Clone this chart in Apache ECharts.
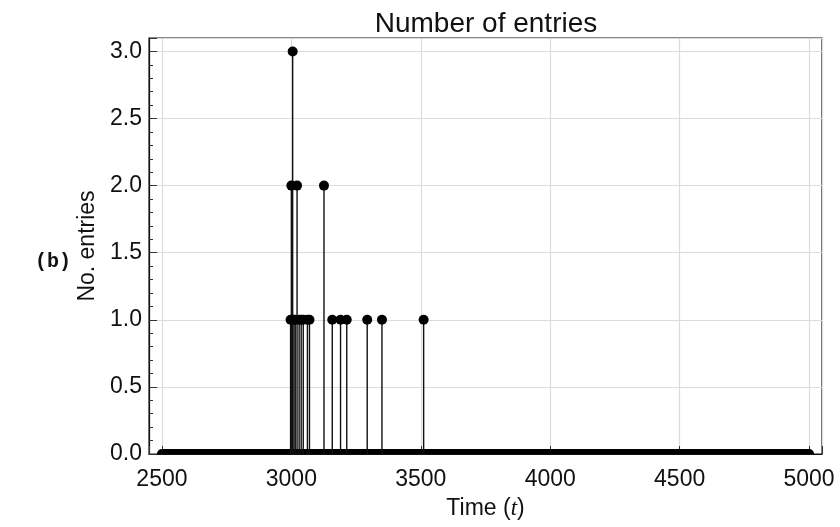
<!DOCTYPE html>
<html>
<head>
<meta charset="utf-8">
<script src="https://cdn.jsdelivr.net/npm/echarts@6/dist/echarts.min.js"></script>
<style>
  html, body { margin: 0; padding: 0; background: #fff; }
  #chart { width: 840px; height: 527px; }
</style>
</head>
<body>
<div id="chart"></div>
<script>
// nonzero entries: time and count
const entryTimes = [2997, 3000, 3005, 3010, 3015, 3022, 3030, 3038, 3046, 3062, 3070, 3126, 3158, 3190, 3214, 3293, 3350, 3511];
const entryCounts = [1, 2, 3, 1, 1, 2, 1, 1, 1, 1, 1, 2, 1, 1, 1, 1, 1, 1];
// time span of the run (every other step has 0 entries)
const timeRange = [2500, 5000];
const yTicks = [0, 0.5, 1.0, 1.5, 2.0, 2.5, 3.0];

const entries = entryTimes.map((t, i) => [t, entryCounts[i]]);

const chart = echarts.init(document.getElementById("chart"));
const font = "Liberation Sans";

chart.setOption({
  backgroundColor: "#fff",
  animation: false,
  title: {
    text: "Number of entries",
    left: 481, top: 5, textAlign: "center",
    textStyle: { fontFamily: font, fontSize: 28, fontWeight: "normal", color: "#111" }
  },
  grid: {
    left: 149, right: 18, top: 38, bottom: 73,
    show: true, borderColor: "#111", borderWidth: 1.2, backgroundColor: "transparent"
  },
  xAxis: {
    type: "value",
    min: 2450, max: 5050, splitNumber: 5,
    name: "Time ({it|t})",
    nameLocation: "middle", nameGap: 43,
    nameTextStyle: {
      fontFamily: font, fontSize: 23, color: "#111",
      rich: { it: { fontFamily: "Liberation Serif", fontStyle: "italic", fontSize: 23, color: "#111" } }
    },
    axisLine: { show: true, lineStyle: { color: "#111", width: 1.2 } },
    axisTick: { show: true, inside: true, length: 8, lineStyle: { color: "#333" } },
    minorTick: { show: true, splitNumber: 5, length: 4, lineStyle: { color: "#333" } },
    axisLabel: {
      showMinLabel: false, showMaxLabel: false, margin: 14,
      fontFamily: font, fontSize: 23, color: "#111",
      formatter: v => String(v)
    },
    splitLine: { show: true, lineStyle: { color: "#dcdcdc", width: 1.2 } }
  },
  yAxis: {
    type: "value",
    min: 0, max: 3.1, interval: 0.5,
    name: "No. entries",
    nameLocation: "middle", nameGap: 47,
    nameTextStyle: { fontFamily: font, fontSize: 23, color: "#111" },
    axisLine: { show: true, lineStyle: { color: "#111", width: 1.2 } },
    axisTick: { show: true, inside: true, length: 8, lineStyle: { color: "#333" } },
    minorTick: { show: true, splitNumber: 5, length: 4, lineStyle: { color: "#333" } },
    axisLabel: {
      showMaxLabel: false, margin: 7,
      fontFamily: font, fontSize: 23, color: "#111",
      formatter: v => yTicks.includes(v) ? v.toFixed(1) : ""
    },
    splitLine: { show: true, lineStyle: { color: "#dcdcdc", width: 1.2 } }
  },
  graphic: [{
    type: "text", left: 35, top: 252,
    style: { text: "(b)", font: "bold 20px 'Liberation Mono'", fill: "#111" }
  }],
  series: [
    {
      // zero-entry steps: dense row of dots on the axis, half hidden by the frame
      type: "custom",
      data: [timeRange],
      clip: true,
      renderItem: (params, api) => {
        const p0 = api.coord([api.value(0), 0]);
        const p1 = api.coord([api.value(1), 0]);
        const r = 5;
        return {
          type: "group",
          children: [
            { type: "rect", shape: { x: p0[0], y: p0[1] - r, width: p1[0] - p0[0], height: r }, style: { fill: "#000" } },
            { type: "sector", shape: { cx: p0[0], cy: p0[1], r: r, startAngle: Math.PI, endAngle: 1.5 * Math.PI }, style: { fill: "#000" } },
            { type: "sector", shape: { cx: p1[0], cy: p1[1], r: r, startAngle: 1.5 * Math.PI, endAngle: 2 * Math.PI }, style: { fill: "#000" } }
          ]
        };
      },
      z: 3
    },
    {
      type: "custom",
      data: entries,
      renderItem: (params, api) => {
        const p0 = api.coord([api.value(0), 0]);
        const p1 = api.coord([api.value(0), api.value(1)]);
        return {
          type: "line",
          shape: { x1: p0[0], y1: p0[1], x2: p1[0], y2: p1[1] },
          style: { stroke: "#111", lineWidth: 1.4 }
        };
      },
      z: 4
    },
    {
      type: "scatter",
      data: entries,
      symbol: "circle",
      symbolSize: 10,
      itemStyle: { color: "#000", opacity: 1 },
      z: 5
    }
  ]
});
</script>
</body>
</html>
